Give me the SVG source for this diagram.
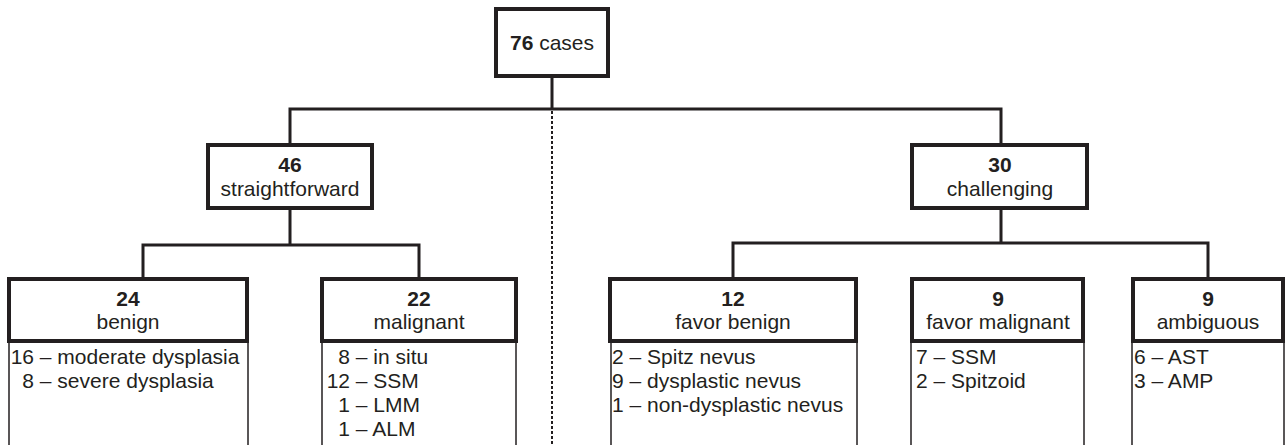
<svg xmlns="http://www.w3.org/2000/svg" width="1287" height="445" viewBox="0 0 1287 445">
<style>
text{font-family:"Liberation Sans",Arial,sans-serif;font-size:21px;fill:#231f20}
.b{font-weight:bold}
.c{text-anchor:middle}
.e{text-anchor:end}
.box{fill:#fff;stroke:#231f20;stroke-width:4}
.list{fill:none;stroke:#231f20;stroke-width:1.5}
.con{fill:none;stroke:#231f20;stroke-width:3}
.dash{fill:none;stroke:#231f20;stroke-width:2;stroke-dasharray:3 2}
</style>
<rect width="1287" height="445" fill="#fff"/>
<g id="connectors">
<path class="dash" d="M552 111V445"/>
<path class="con" d="M552 77V109M290 143V109H1001V143"/>
<path class="con" d="M290 210V245M143 277V245H419V277"/>
<path class="con" d="M1001 210V243M733 277V243H1208V277"/>
</g>
<g id="n76">
<rect class="box" x="496" y="9" width="112" height="67"/>
<text class="c" x="552" y="50"><tspan class="b">76</tspan> cases</text>
</g>
<g id="n46">
<rect class="box" x="208" y="145" width="164" height="63"/>
<text class="c b" x="290" y="172">46</text>
<text class="c" x="290" y="196">straightforward</text>
</g>
<g id="n30">
<rect class="box" x="912" y="145" width="175" height="63"/>
<text class="c b" x="1000" y="172">30</text>
<text class="c" x="1000" y="196">challenging</text>
</g>
<g id="n24">
<rect class="list" x="9" y="342" width="239" height="110"/>
<rect class="box" x="9" y="279" width="238" height="62"/>
<text class="c b" x="128" y="306">24</text>
<text class="c" x="128" y="329">benign</text>
<text class="e" x="34" y="364">16</text><text x="34" y="364">&#160;– moderate dysplasia</text>
<text class="e" x="34" y="388">8</text><text x="34" y="388">&#160;– severe dysplasia</text>
</g>
<g id="n22">
<rect class="list" x="322" y="342" width="194" height="110"/>
<rect class="box" x="322" y="279" width="194" height="62"/>
<text class="c b" x="419" y="306">22</text>
<text class="c" x="419" y="329">malignant</text>
<text class="e" x="350" y="364">8</text><text x="350" y="364">&#160;– in situ</text>
<text class="e" x="350" y="388">12</text><text x="350" y="388">&#160;– SSM</text>
<text class="e" x="350" y="412">1</text><text x="350" y="412">&#160;– LMM</text>
<text class="e" x="350" y="436">1</text><text x="350" y="436">&#160;– ALM</text>
</g>
<g id="n12">
<rect class="list" x="611" y="342" width="246" height="110"/>
<rect class="box" x="610" y="279" width="246" height="62"/>
<text class="c b" x="733" y="306">12</text>
<text class="c" x="733" y="329">favor benign</text>
<text x="612" y="364">2 – Spitz nevus</text>
<text x="612" y="388">9 – dysplastic nevus</text>
<text x="612" y="412">1 – non-dysplastic nevus</text>
</g>
<g id="n9m">
<rect class="list" x="911" y="342" width="173" height="110"/>
<rect class="box" x="912" y="279" width="171" height="62"/>
<text class="c b" x="998" y="306">9</text>
<text class="c" x="998" y="329">favor malignant</text>
<text x="916" y="364">7 – SSM</text>
<text x="916" y="388">2 – Spitzoid</text>
</g>
<g id="n9a">
<rect class="list" x="1132" y="342" width="152" height="110"/>
<rect class="box" x="1133" y="279" width="150" height="62"/>
<text class="c b" x="1208" y="306">9</text>
<text class="c" x="1208" y="329">ambiguous</text>
<text x="1134" y="364">6 – AST</text>
<text x="1134" y="388">3 – AMP</text>
</g>
</svg>
